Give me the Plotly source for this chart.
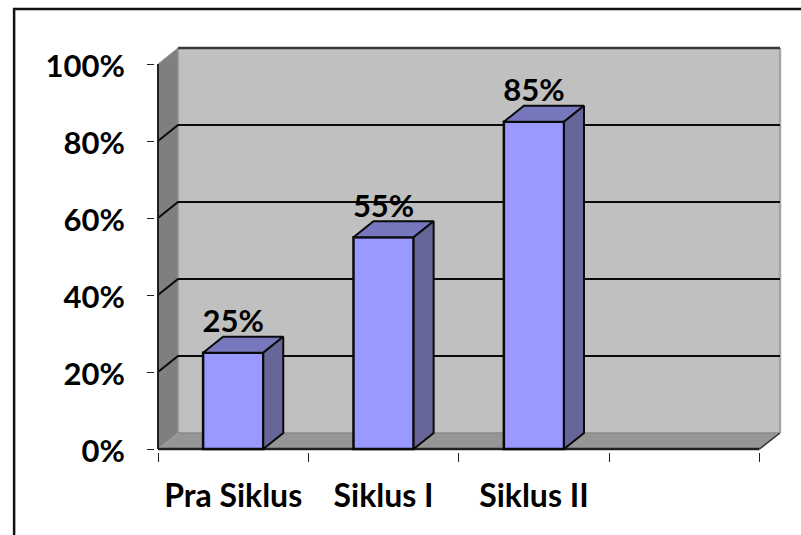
import plotly.graph_objects as go

categories = ["Pra Siklus", "Siklus I", "Siklus II"]
values = [25, 55, 85]
bar_labels = ["25%", "55%", "85%"]
y_ticks = [0, 20, 40, 60, 80, 100]
y_tick_labels = ["0%", "20%", "40%", "60%", "80%", "100%"]
slots = [0, 1, 2, 3, 4]

W, H = 801, 535
PAD = 3
L0, R0, T0, B0 = 158, 780.5, 48, 449
L, R, T, B = L0 - PAD, R0 + PAD, T0 - PAD, B0 + PAD
px_x = 150.5
px_y = 3.85
DX = 20 / px_x
DY = 16 / px_y
xwall = (R0 - L0) / px_x
ywall = (B0 - T0) / px_y
xr = [-PAD / px_x, xwall + PAD / px_x]
yr = [-PAD / px_y, ywall + PAD / px_y]
bw = 0.4
FONT = "Lato"
FS = 31
FSX = 32
BLACK = "#0a0a0a"

def path(pts):
    return "M" + " L".join(f"{x},{y}" for x, y in pts) + " Z"

def poly(pts, fill):
    return dict(type="path", path=path(pts), xref="x", yref="y", fillcolor=fill,
                line=dict(color="rgba(0,0,0,0)", width=0), layer="below")

def seg(pts, color, w):
    p = "M" + " L".join(f"{x},{y}" for x, y in pts)
    return dict(type="path", path=p, xref="x", yref="y", line=dict(color=color, width=w), layer="below")

X4 = slots[-1]
shapes = [
    poly([(DX, DY), (xwall, DY), (xwall, ywall), (DX, ywall)], "#c0c0c0"),
    poly([(0, 0), (DX, DY), (DX, ywall), (0, 100)], "#7f7f7f"),
    poly([(0, 0), (X4, 0), (xwall, DY), (DX, DY)], "#969696"),
    seg([(DX, DY), (xwall, DY)], "#8a8a8a", 1.5),
    seg([(DX, DY), (DX, ywall)], "#8f8f8f", 1.5),
    seg([(xwall, DY), (xwall, ywall)], "#a6a6a6", 2.5),
]
for v in y_ticks[1:-1]:
    shapes.append(seg([(0, v), (DX, v + DY), (xwall, v + DY)], BLACK, 2))
shapes += [
    seg([(DX, ywall), (xwall, ywall)], "#3a3a3a", 2.5),
    seg([(0, 100), (DX, ywall)], "#9a9a9a", 1),
    seg([(0, 0), (0, 100)], "#222222", 2),
    seg([(X4, 0), (xwall, DY)], "#333333", 1.5),
    seg([(0, 0), (X4, 0)], "#222222", 2.5),
]
# outer frame: left and top edges only
shapes.append(dict(type="path", xref="paper", yref="paper",
                   path=f"M{(14-L)/(R-L)},{(B-536)/(B-T)} L{(14-L)/(R-L)},{(B-9)/(B-T)} L{(802-L)/(R-L)},{(B-9)/(B-T)}",
                   line=dict(color="#111111", width=2.5), layer="below"))

fig = go.Figure()
centers = [i + 0.5 for i in range(len(categories))]
fig.add_trace(go.Bar(x=centers, y=values, width=bw, marker=dict(color="#9999ff", line=dict(color=BLACK, width=2.5)),
                     showlegend=False, hoverinfo="skip"))
for c, v in zip(centers, values):
    x0, x1 = c - bw / 2, c + bw / 2
    fig.add_trace(go.Scatter(x=[x0, x1, x1 + DX, x0 + DX, x0], y=[v, v, v + DY, v + DY, v], mode="lines",
                             fill="toself", fillcolor="#7777bd", line=dict(color=BLACK, width=2),
                             showlegend=False, hoverinfo="skip"))
    fig.add_trace(go.Scatter(x=[x1, x1 + DX, x1 + DX, x1, x1], y=[0, DY, v + DY, v, 0], mode="lines",
                             fill="toself", fillcolor="#666699", line=dict(color=BLACK, width=2),
                             showlegend=False, hoverinfo="skip"))
fig.add_trace(go.Scatter(x=centers, y=[v + DY - 0.8 for v in values], mode="text", text=bar_labels,
                         textposition="top center", textfont=dict(family=FONT, size=FS, color="black", weight=700),
                         showlegend=False, hoverinfo="skip", cliponaxis=False))

fig.update_layout(
    width=W, height=H, autosize=False, margin=dict(l=L, r=W - R, t=T, b=H - B, pad=0),
    paper_bgcolor="white", plot_bgcolor="white", shapes=shapes, showlegend=False,
    xaxis=dict(range=xr, tickmode="array", tickvals=centers, ticktext=categories,
               ticks="", showgrid=False, zeroline=False, showline=False,
               tickfont=dict(family=FONT, size=FSX, color="black", weight=700), ticklabelstandoff=22,
               minor=dict(tickmode="array", tickvals=slots, ticks="outside", ticklen=9, tickwidth=1, tickcolor="#222222", showgrid=False)),
    yaxis=dict(range=yr, tickmode="array", tickvals=y_ticks, ticktext=y_tick_labels,
               ticks="outside", ticklen=7, tickwidth=1, tickcolor="#222222", showgrid=False, zeroline=False, showline=False,
               tickfont=dict(family=FONT, size=FS, color="black", weight=700), ticklabelstandoff=16, ticklabelshift=2),
)
fig.write_html("out.html", config={"displayModeBar": False},
               post_script="document.body.style.margin='0';document.body.style.overflow='hidden';")
